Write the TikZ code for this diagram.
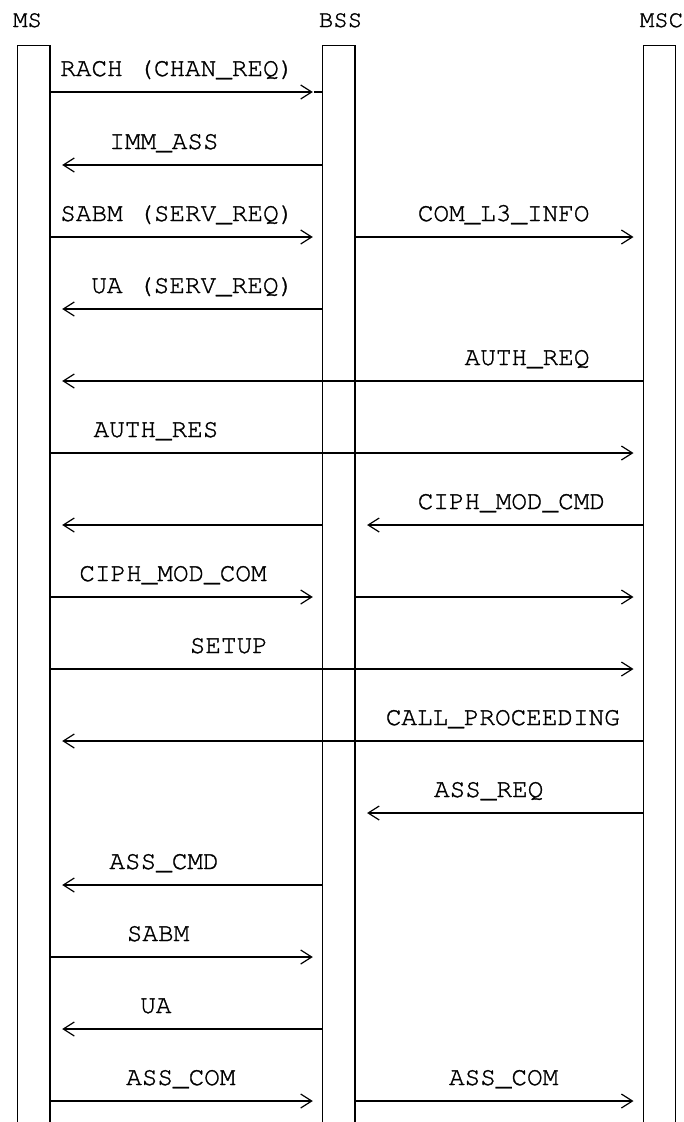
\documentclass[tikz,border=0pt]{standalone}
\usepackage{fontspec}
\newfontfamily\msgfont{TeX Gyre Cursor}[FakeBold=1.2]
\usetikzlibrary{arrows.meta}

\begin{document}
\begin{tikzpicture}[x=1pt, y=-1pt, line width=1.2pt,
    >={Bar[width=0pt,sep=1.5pt]Straight Barb[length=11pt,width=14pt]},
    lifeline/.style={draw, line width=1.3pt, minimum width=32.5pt, minimum height=1100pt, inner sep=0pt, anchor=north},
    head/.style={font=\msgfont\fontsize{24}{28}\selectfont, anchor=base, inner sep=0pt},
    lbl/.style={font=\msgfont\fontsize{26}{30}\selectfont, anchor=base, inner sep=0pt, yshift=16pt},
    toright/.style={->, shorten >=9pt},
    toleft/.style={->, shorten >=11.5pt}]
\useasboundingbox (0,0) rectangle (683,1122);

    \node[head] (ms-name) at (27.5,27) {MS};
    \node[head] (bss-name) at (340.5,27) {BSS};
    \node[head] (msc-name) at (661.5,27) {MSC};

\begin{scope}
    \node[lifeline] (ms) at (33.8,45) {};
    \node[lifeline] (bss) at (338.7,45) {};
    \node[lifeline] (msc) at (659.4,45) {};
\end{scope}

% message rows
\coordinate (rach) at (0,92);
\coordinate (immass) at (0,165);
\coordinate (sabm) at (0,237);
\coordinate (ua) at (0,309);
\coordinate (authreq) at (0,381);
\coordinate (authres) at (0,453);
\coordinate (ciphcmd) at (0,525);
\coordinate (ciphcom) at (0,597);
\coordinate (setup) at (0,669);
\coordinate (callproc) at (0,741);
\coordinate (assreq) at (0,813);
\coordinate (asscmd) at (0,885);
\coordinate (sabm2) at (0,957);
\coordinate (ua2) at (0,1029);
\coordinate (asscom) at (0,1101);

\draw[toright] (ms.east |- rach) -- (bss.west |- rach) node[lbl, pos=.467] (rach-lbl) {RACH (CHAN\_REQ)};
\draw (bss.west |- rach) -- ++(-8,0);
\draw[toleft] (bss.west |- immass) -- (ms.east |- immass) node[lbl, pos=.582] (immass-lbl) {IMM\_ASS};
\draw[toright] (ms.east |- sabm) -- (bss.west |- sabm) node[lbl, pos=.467] (sabm-lbl) {SABM (SERV\_REQ)};
\draw[toright] (bss.east |- sabm) -- (msc.west |- sabm) node[lbl, pos=.516] (coml3-lbl) {COM\_L3\_INFO};
\draw[toleft] (bss.west |- ua) -- (ms.east |- ua) node[lbl, pos=.476] (ua-lbl) {UA (SERV\_REQ)};
\draw[toleft] (msc.west |- authreq) -- (ms.east |- authreq) node[lbl, pos=.195] (authreq-lbl) {AUTH\_REQ};
\draw[toright] (ms.east |- authres) -- (msc.west |- authres) node[lbl, pos=.178] (authres-lbl) {AUTH\_RES};
\draw[toleft] (msc.west |- ciphcmd) -- (bss.east |- ciphcmd) node[lbl, pos=.457] (ciphcmd-lbl) {CIPH\_MOD\_CMD};
\draw[toleft] (bss.west |- ciphcmd) -- (ms.east |- ciphcmd);
\draw[toright] (ms.east |- ciphcom) -- (bss.west |- ciphcom) node[lbl, pos=.451] (ciphcom-lbl) {CIPH\_MOD\_COM};
\draw[toright] (bss.east |- ciphcom) -- (msc.west |- ciphcom);
\draw[toright] (ms.east |- setup) -- (msc.west |- setup) node[lbl, pos=.301] (setup-lbl) {SETUP};
\draw[toleft] (msc.west |- callproc) -- (ms.east |- callproc) node[lbl, pos=.236] (callproc-lbl) {CALL\_PROCEEDING};
\draw[toleft] (msc.west |- assreq) -- (bss.east |- assreq) node[lbl, pos=.536] (assreq-lbl) {ASS\_REQ};
\draw[toleft] (bss.west |- asscmd) -- (ms.east |- asscmd) node[lbl, pos=.582] (asscmd-lbl) {ASS\_CMD};
\draw[toright] (ms.east |- sabm2) -- (bss.west |- sabm2) node[lbl, pos=.396] (sabm2-lbl) {SABM};
\draw[toleft] (bss.west |- ua2) -- (ms.east |- ua2) node[lbl, pos=.612] (ua2-lbl) {UA};
\draw[toright] (ms.east |- asscom) -- (bss.west |- asscom) node[lbl, pos=.48] (asscom-lbl) {ASS\_COM};
\draw[toright] (bss.east |- asscom) -- (msc.west |- asscom) node[lbl, pos=.516] (asscom2-lbl) {ASS\_COM};

\end{tikzpicture}
\end{document}
